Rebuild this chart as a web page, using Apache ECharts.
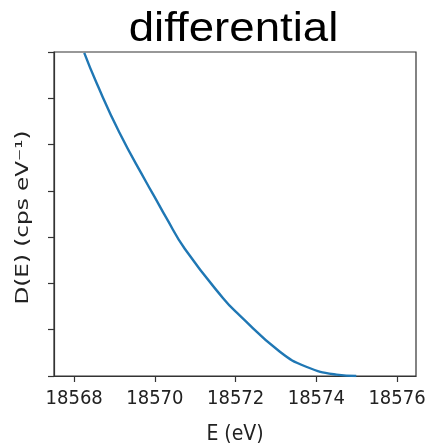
<!DOCTYPE html>
<html>
<head>
<meta charset="utf-8">
<script src="https://cdn.jsdelivr.net/npm/echarts@6/dist/echarts.min.js"></script>
<style>html,body{margin:0;padding:0;background:#fff}#c{width:428px;height:445px}</style>
</head>
<body>
<div id="c"></div>
<script>
var energies = [18568.25, 18568.55, 18569.12, 18569.79, 18570.03, 18570.28, 18570.74, 18571.69, 18572.10, 18573.09, 18573.75, 18574.50, 18574.99];
var dValues  = [6.98, 6.34, 5.26, 4.18, 3.81, 3.42, 2.75, 1.68, 1.31, 0.53, 0.20, 0.03, 0.0];
var xTicks = [18568, 18570, 18572, 18574, 18576];
var yTicks = [0, 1, 2, 3, 4, 5, 6, 7];
var titleText = 'differential';
var xName = 'E (eV)';
var yName = 'D(E) (cps eV\u207B\u00B9)';

var chart = echarts.init(document.getElementById('c'), null, {renderer: 'canvas'});
var pts = energies.map(function (e, i) { return [e, dValues[i]]; });
var frame = '#333';
var tickFont = "'Liberation Sans Narrow', 'DejaVu Sans Condensed', 'DejaVu Sans', sans-serif";
chart.setOption({
  animation: false,
  backgroundColor: '#fff',
  grid: {left: 54, right: 12, top: 52, bottom: 69, show: true, borderColor: frame, borderWidth: 1.2,
         containLabel: false, outerBoundsMode: 'none'},
  graphic: [
    {type: 'text', x: 233.5, y: 10, scaleX: 1.14,
     style: {text: titleText, fontFamily: 'Liberation Sans, Arial, sans-serif', fontSize: 40, fill: '#000', align: 'center', verticalAlign: 'top'}},
    {type: 'text', x: 14, y: 217.5, rotation: Math.PI / 2, scaleX: 1.32,
     style: {text: yName, fontFamily: 'DejaVu Sans, sans-serif', fontSize: 17.5, fill: '#222', align: 'center', verticalAlign: 'top'}}
  ],
  xAxis: {
    type: 'value', min: 18567.5, max: 18576.47,
    name: xName, nameLocation: 'middle', nameGap: 48,
    nameTextStyle: {fontFamily: tickFont, fontSize: 21, color: '#222'},
    axisLine: {show: true, lineStyle: {color: frame, width: 1.2}},
    axisTick: {show: true, length: 6, customValues: xTicks, lineStyle: {color: frame, width: 1.2}},
    axisLabel: {show: true, customValues: xTicks, margin: 13, fontFamily: tickFont, fontSize: 20, color: '#222',
      formatter: function (v) { return String(v); }},
    splitLine: {show: false}
  },
  yAxis: {
    type: 'value', min: 0, max: 7, interval: 1,
    axisLine: {show: true, lineStyle: {color: frame, width: 1.2}},
    axisTick: {show: true, length: 6, customValues: yTicks, lineStyle: {color: frame, width: 1.2}},
    axisLabel: {show: false},
    splitLine: {show: false}
  },
  series: [{
    type: 'line', data: pts, smooth: 0.5, showSymbol: false, clip: true,
    lineStyle: {color: '#1f77b4', width: 2.4}
  }]
});
</script>
</body>
</html>
